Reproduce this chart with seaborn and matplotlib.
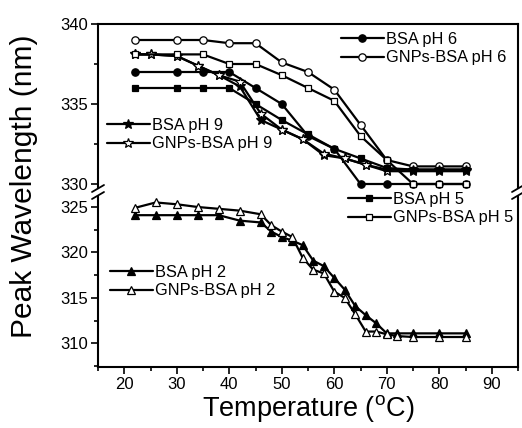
import matplotlib
matplotlib.use("Agg")
import matplotlib.pyplot as plt
import seaborn as sns
import pandas as pd
import numpy as np
from matplotlib.ticker import MultipleLocator
from matplotlib.lines import Line2D

sns.set_theme(style="ticks")
plt.rcParams['font.family'] = ['Liberation Sans', 'DejaVu Sans']
plt.rcParams['text.color'] = 'black'
plt.rcParams['axes.labelcolor'] = 'black'
plt.rcParams['xtick.color'] = 'black'
plt.rcParams['ytick.color'] = 'black'

# ---- data ----
t_ph6 = [22, 30, 35, 40, 45, 50, 55, 60, 65, 70, 75, 80, 85]
bsa_ph6 = [337.0, 337.0, 337.0, 337.0, 336.0, 335.0, 333.0, 332.2, 330.0, 330.0, 330.0, 330.0, 330.0]
gnp_ph6 = [339.0, 339.0, 339.0, 338.8, 338.8, 337.6, 337.0, 335.9, 333.7, 331.5, 331.1, 331.1, 331.1]

t_ph5 = [22, 30, 35, 40, 45, 50, 55, 60, 65, 70, 75, 80, 85]
bsa_ph5 = [336.0, 336.0, 336.0, 336.0, 335.0, 334.0, 333.1, 332.2, 331.6, 331.0, 330.9, 330.9, 330.9]
gnp_ph5 = [338.1, 338.1, 338.1, 337.5, 337.5, 336.8, 336.0, 335.2, 333.0, 331.5, 330.0, 330.0, 330.0]

t_ph9 = [22, 25, 30, 34, 38, 42, 46, 50, 54, 58, 62, 66, 70, 75, 80, 85]
bsa_ph9 = [338.1, 338.1, 338.0, 337.4, 336.8, 336.1, 334.0, 333.4, 332.8, 331.8, 331.6, 331.2, 330.9, 330.9, 330.9, 330.9]
gnp_ph9 = [338.1, 338.1, 338.0, 337.4, 336.8, 336.4, 334.4, 333.4, 332.8, 331.9, 331.6, 331.2, 330.8, 330.8, 330.8, 330.8]

t_ph2 = [22, 26, 30, 34, 38, 42, 46, 48, 50, 52, 54, 56, 58, 60, 62, 64, 66, 68, 70, 72, 75, 80, 85]
bsa_ph2 = [324.1, 324.1, 324.1, 324.1, 324.1, 323.5, 323.3, 322.3, 321.7, 321.3, 320.8, 319.1, 318.5,
           317.2, 315.9, 314.1, 313.1, 312.2, 311.1, 311.1, 311.1, 311.1, 311.1]
gnp_ph2 = [324.9, 325.5, 325.3, 325.0, 324.8, 324.6, 324.2, 323.0, 322.3, 321.7, 319.4, 318.1, 317.7,
           315.7, 315.0, 313.2, 311.3, 311.3, 311.0, 310.8, 310.7, 310.7, 310.7]

series = [
    ("BSA pH 6", t_ph6, bsa_ph6, 'o', 'black', 'top'),
    ("GNPs-BSA pH 6", t_ph6, gnp_ph6, 'o', 'white', 'top'),
    ("BSA pH 9", t_ph9, bsa_ph9, '*', 'black', 'top'),
    ("GNPs-BSA pH 9", t_ph9, gnp_ph9, '*', 'white', 'top'),
    ("BSA pH 5", t_ph5, bsa_ph5, 's', 'black', 'top'),
    ("GNPs-BSA pH 5", t_ph5, gnp_ph5, 's', 'white', 'top'),
    ("BSA pH 2", t_ph2, bsa_ph2, '^', 'black', 'bot'),
    ("GNPs-BSA pH 2", t_ph2, gnp_ph2, '^', 'white', 'bot'),
]
msizes = {'o': 5.3, 's': 5.0, '*': 7.5, '^': 5.8}

W, H = 522, 428
fig = plt.figure(figsize=(W / 100, H / 100), dpi=100)
L, R = 98, 518
ax_top = fig.add_axes([L / W, 1 - 188 / H, (R - L) / W, (188 - 24) / H])
ax_bot = fig.add_axes([L / W, 1 - 367 / H, (R - L) / W, (367 - 197) / H])

handles = {}
for name, t, v, m, fc, panel in series:
    ax = ax_top if panel == 'top' else ax_bot
    df = pd.DataFrame({"T": t, "val": v})
    ms = msizes[m]
    sns.lineplot(data=df, x="T", y="val", ax=ax, color='black', lw=1.6,
                 marker=m, markersize=ms, markerfacecolor=fc,
                 markeredgecolor='black', markeredgewidth=0.9,
                 sort=False, estimator=None, errorbar=None)
    handles[name] = Line2D([], [], color='black', lw=1.6, marker=m, markersize=ms,
                           markerfacecolor=fc, markeredgecolor='black', markeredgewidth=0.9)

for ax in (ax_top, ax_bot):
    ax.set_xlim(15, 95)
    ax.set_facecolor('white')
    for s in ax.spines.values():
        s.set_linewidth(1.5)
        s.set_color('black')
    ax.tick_params(axis='both', which='major', direction='out', length=5, width=1.2,
                   labelsize=12, colors='black', right=False, top=False, pad=2)
    ax.tick_params(axis='both', which='minor', direction='out', length=3, width=1.2,
                   right=False, top=False)
    ax.set_xlabel("")
    ax.set_ylabel("")

ax_top.set_ylim(329.75, 340)
ax_top.set_yticks([330, 335, 340])
ax_top.yaxis.set_minor_locator(MultipleLocator(2.5))
ax_top.spines['bottom'].set_visible(False)
ax_top.tick_params(axis='x', which='both', bottom=False, labelbottom=False)

ax_bot.set_ylim(307.4, 326.1)
ax_bot.set_yticks([310, 315, 320, 325])
ax_bot.yaxis.set_minor_locator(MultipleLocator(2.5))
ax_bot.spines['top'].set_visible(False)
ax_bot.set_xticks(range(20, 91, 10))
ax_bot.xaxis.set_minor_locator(MultipleLocator(5))

ax_bot.set_xlabel("Temperature ($\\mathregular{^o}$C)", fontsize=19.5, labelpad=1)
fig.text(24 / W, 1 - 186 / H, "Peak Wavelength (nm)", rotation=90, fontsize=21.5,
         ha='center', va='center')

# break marks
for xb in (L, R):
    for yb in (187, 194):
        fig.add_artist(Line2D([(xb - 6) / W, (xb + 6) / W], [1 - (yb + 5) / H, 1 - (yb - 2) / H],
                              color='black', lw=1.3, transform=fig.transFigure))

def add_legend(ax, names, x, ytop):
    leg = ax.legend([handles[n] for n in names], names, loc='upper left',
                    bbox_to_anchor=(x / W, 1 - ytop / H), bbox_transform=fig.transFigure,
                    frameon=False, fontsize=11.8, handlelength=2.6, handletextpad=0.15,
                    borderpad=0, borderaxespad=0, labelspacing=0.2)
    for txt in leg.get_texts():
        txt.set_color('black')
    return leg

leg1 = add_legend(ax_top, ["BSA pH 6", "GNPs-BSA pH 6"], 341, 32)
leg2 = add_legend(ax_top, ["BSA pH 9", "GNPs-BSA pH 9"], 107, 118)
ax_top.add_artist(leg1)
leg3 = add_legend(ax_bot, ["BSA pH 5", "GNPs-BSA pH 5"], 348, 192)
leg4 = add_legend(ax_bot, ["BSA pH 2", "GNPs-BSA pH 2"], 110, 265)
ax_bot.add_artist(leg3)

fig.savefig("out.png", dpi=100, facecolor='white')
